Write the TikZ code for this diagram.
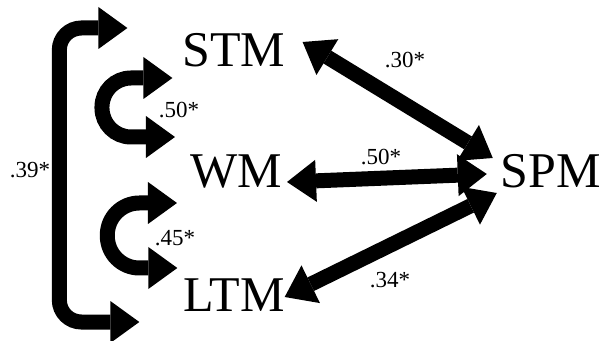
\documentclass[tikz,border=0pt]{standalone}
\usepackage{fontspec}
\setmainfont{Liberation Serif}
\usepackage{tikz}
\usetikzlibrary{arrows.meta}

\begin{document}
\begin{tikzpicture}[x=1pt,y=1pt,
  fat/.style={line width=15pt,
    {Triangle[length=29pt,width=42pt,line width=0pt]}-{Triangle[length=29pt,width=42pt,line width=0pt]}},
  construct/.style={inner sep=0pt, font=\fontsize{50}{60}\selectfont},
  coef/.style={inner sep=0pt, font=\fontsize{23}{27}\selectfont}]

\useasboundingbox (0,0) rectangle (602,340);

% ------------------------------------------------------------
% Constructs
% ------------------------------------------------------------
\node[construct] (STM) at (234,290) {STM};
\node[construct] (WM)  at (236,168.5) {WM};
\node[construct] (LTM) at (234,45) {LTM};
\node[construct] (SPM) at (551,168.5) {SPM};

% ------------------------------------------------------------
% Correlations with SPM
% ------------------------------------------------------------
\draw[fat] ([xshift=17pt,yshift=8pt]STM.east) -- ([xshift=-8pt,yshift=13.5pt]SPM.west);
\draw[fat] ([xshift=5pt,yshift=-10.5pt]WM.east) -- ([xshift=-14pt,yshift=-2.5pt]SPM.west);
\draw[fat] ([xshift=0pt,yshift=-2pt]LTM.east) -- ([xshift=-4pt,yshift=-21.5pt]SPM.west);

% ------------------------------------------------------------
% Correlations among memory constructs
% ------------------------------------------------------------
% STM -- WM
\draw[fat, rounded corners=29pt] ([xshift=-15pt,yshift=34.5pt]WM.west)
  -- ++(-73,0) |- ([xshift=-10pt,yshift=-28pt]STM.west);
% WM -- LTM
\draw[fat, rounded corners=32pt] ([xshift=-6pt,yshift=27pt]LTM.west)
  -- ++(-70,0) |- ([xshift=-13pt,yshift=-31.5pt]WM.west);
% STM -- LTM
\draw[fat, rounded corners=22pt] ([xshift=-44pt,yshift=-27pt]LTM.west)
  -- ++(-80,0) |- ([xshift=-55pt,yshift=22pt]STM.west);

% ------------------------------------------------------------
% Coefficients
% ------------------------------------------------------------
\node[coef] (r1) at (405,280) {.30*};
\node[coef] (r2) at (381,183) {.50*};
\node[coef] (r3) at (390,60)  {.34*};
\node[coef] (r4) at (179,230) {.50*};
\node[coef] (r5) at (175,102) {.45*};
\node[coef] (r6) at (30,170)  {.39*};

\end{tikzpicture}
\end{document}
